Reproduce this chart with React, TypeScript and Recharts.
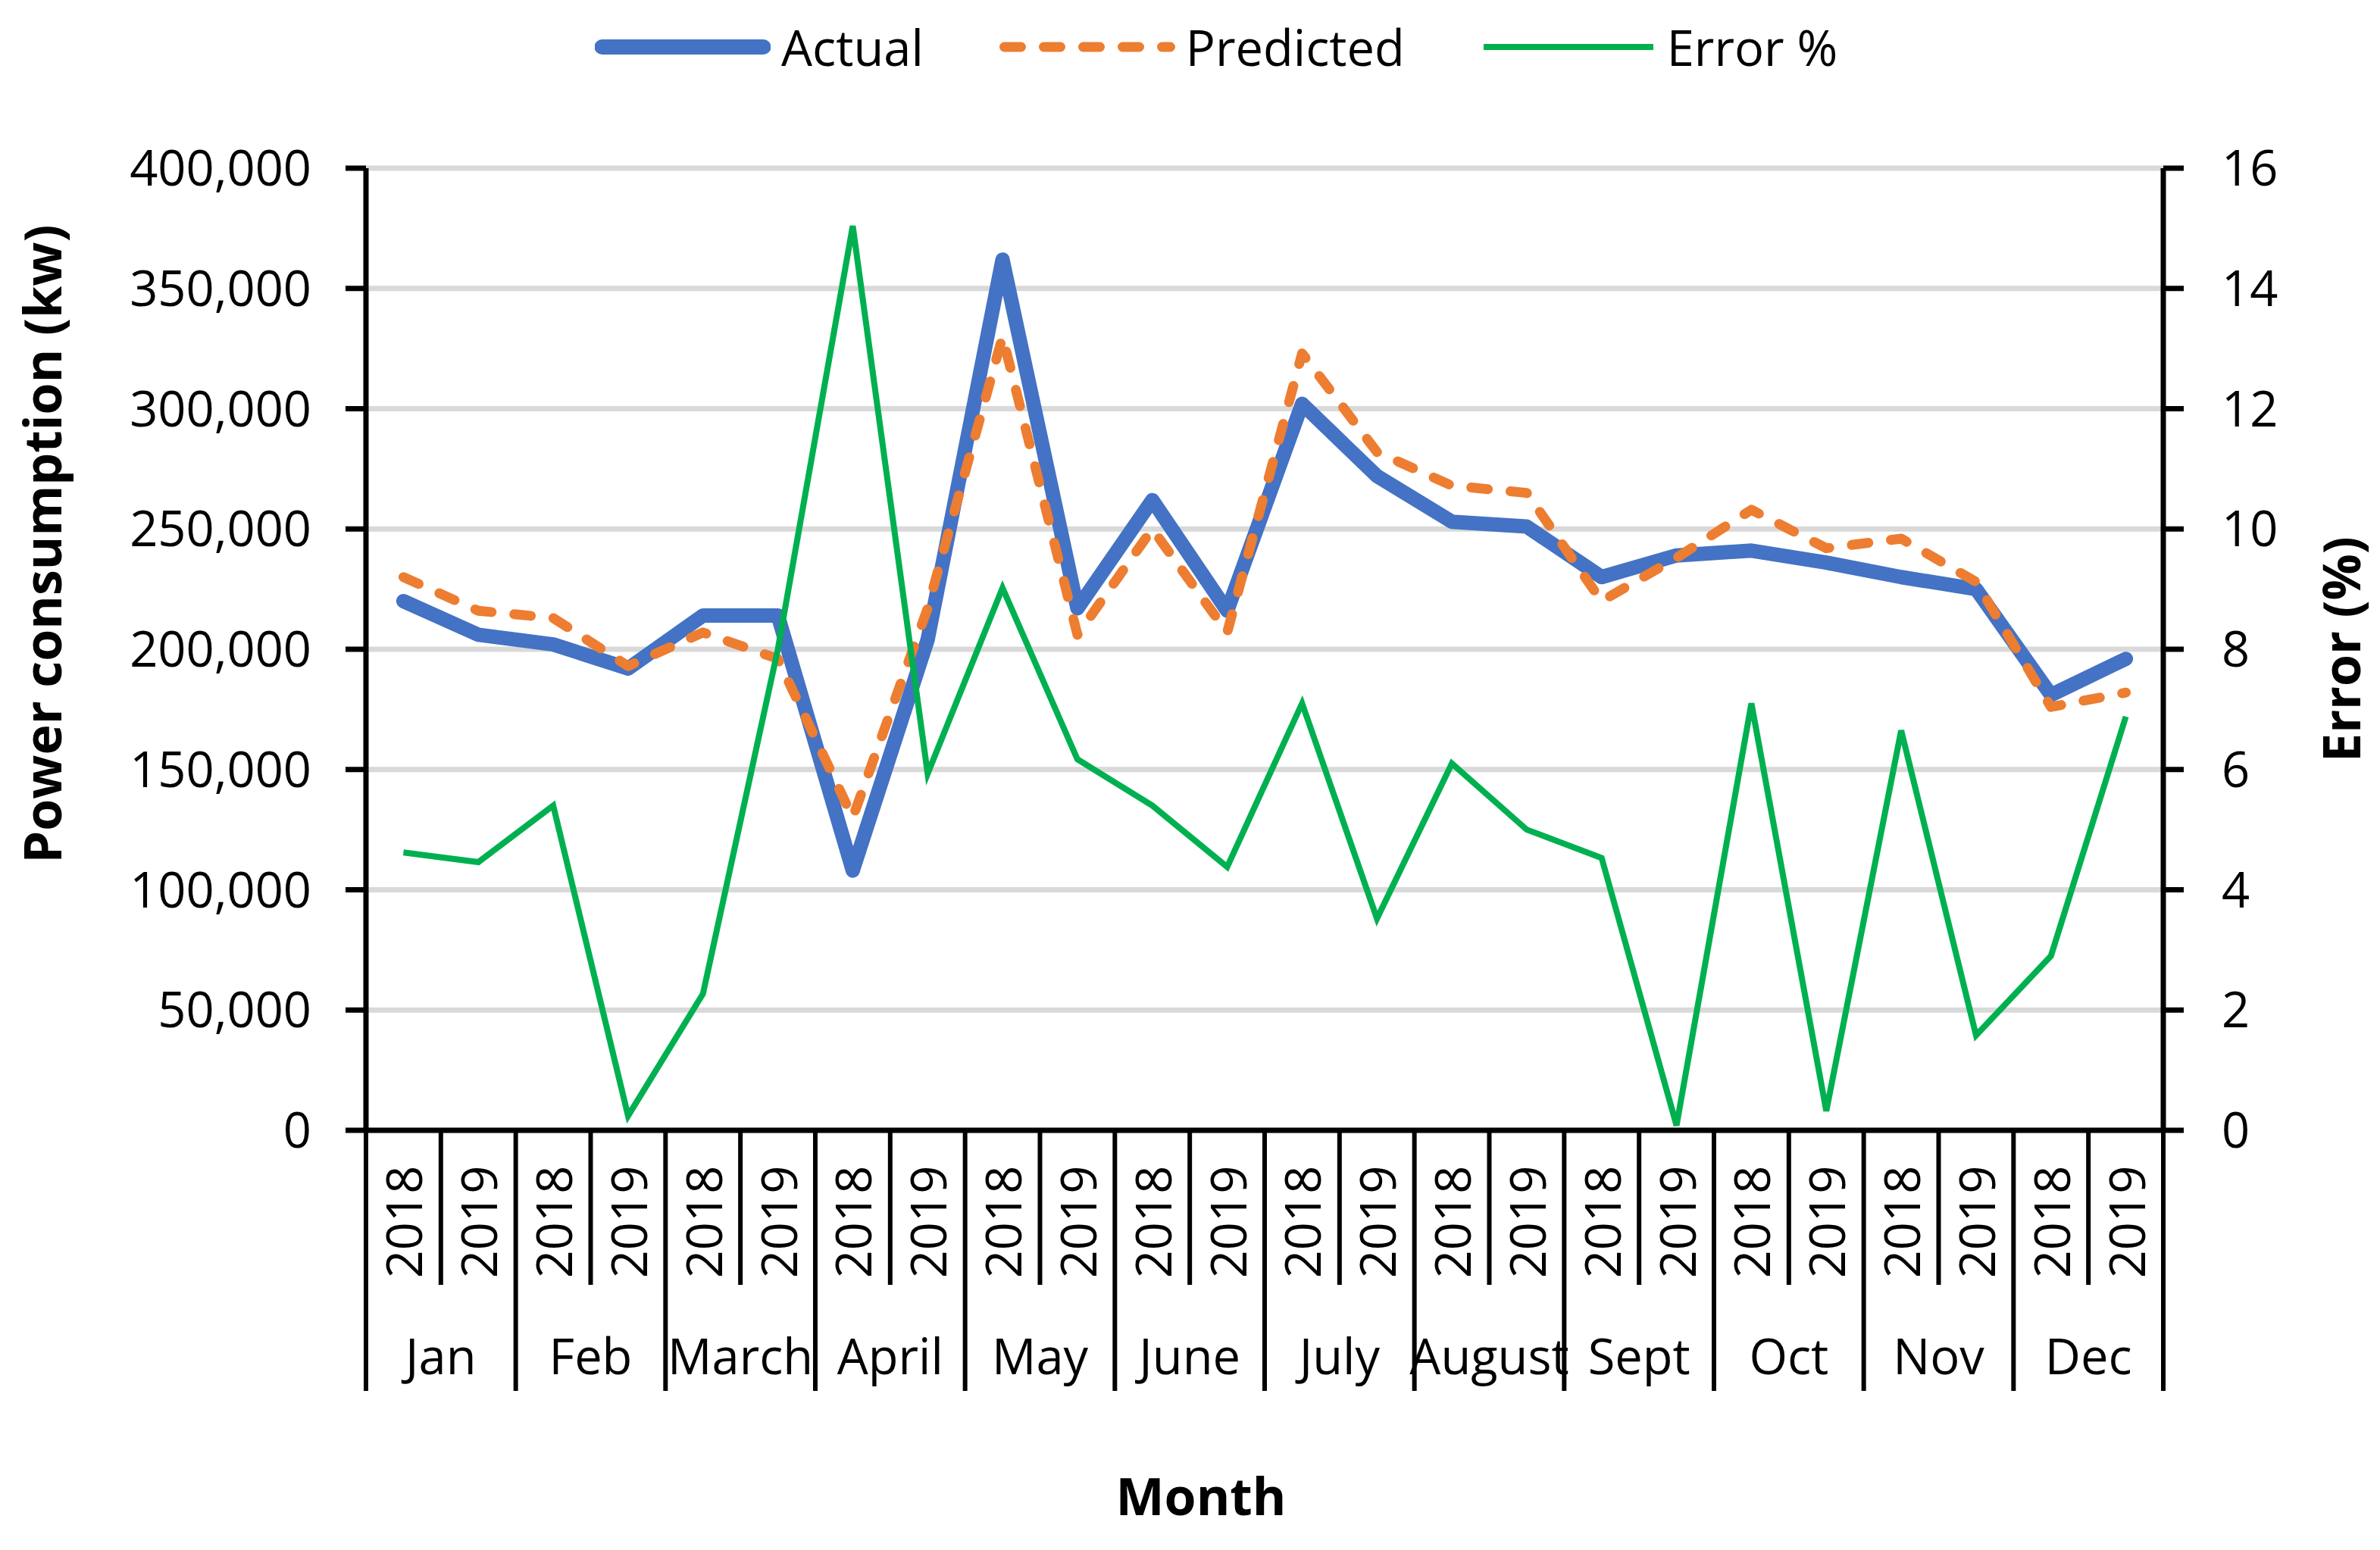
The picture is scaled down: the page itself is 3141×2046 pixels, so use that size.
import { CartesianGrid, Legend, Line, LineChart, XAxis, YAxis } from "recharts";

const months = ["Jan", "Feb", "March", "April", "May", "June", "July", "August", "Sept", "Oct", "Nov", "Dec"];
const years = ["2018", "2019"];

const actual = [
  220000, 206000, 202000, 192000, 214000, 214000, 108000, 204000, 362000, 217000, 262000, 216000,
  302000, 272000, 253000, 251000, 230000, 239000, 241000, 236000, 230000, 225000, 181000, 196000,
];
const predicted = [
  230000, 216000, 213000, 193000, 207000, 196000, 130000, 217000, 330000, 206000, 250000, 207000,
  323000, 282000, 268000, 265000, 220000, 238000, 258000, 242000, 246000, 228000, 176000, 182000,
];
const errorPct = [
  4.62, 4.46, 5.4, 0.24, 2.27, 8.0, 15.04, 5.93, 9.02, 6.17, 5.4, 4.38,
  7.1, 3.52, 6.1, 5.0, 4.53, 0.08, 7.1, 0.32, 6.65, 1.58, 2.9, 6.88,
];

const powerTicks = [0, 50000, 100000, 150000, 200000, 250000, 300000, 350000, 400000];
const errorTicks = [0, 2, 4, 6, 8, 10, 12, 14, 16];

const series = [
  { key: "actual", name: "Actual", color: "#4472C4", width: 19, dash: undefined },
  { key: "predicted", name: "Predicted", color: "#ED7D31", width: 13, dash: "22 30" },
  { key: "error", name: "Error %", color: "#00B050", width: 8, dash: undefined },
];

const data = months.flatMap((month, m) =>
  years.map((year, y) => {
    const i = m * 2 + y;
    return {
      key: `${month} ${year}`,
      month,
      year,
      actual: actual[i],
      predicted: predicted[i],
      error: errorPct[i],
    };
  })
);

const WIDTH = 3141;
const HEIGHT = 2046;
const LEFT_AXIS = 483;
const RIGHT_AXIS = 286;
const LEGEND_H = 222;
const X_AXIS_H = 554;
const FONT = "'Open Sans', 'Noto Sans', sans-serif";
const BAND = (WIDTH - LEFT_AXIS - RIGHT_AXIS) / data.length;

function CategoryTick(props: any) {
  const { x, y, payload } = props;
  const index = payload?.index ?? props.index ?? 0;
  const row = data[index];
  if (!row) return null;
  const half = BAND / 2;
  const monthStart = row.year === years[0];
  const isLast = index === data.length - 1;
  return (
    <g>
      <text
        transform={`translate(${x},${y + 121}) rotate(-90)`}
        textAnchor="middle"
        dominantBaseline="central"
        fontSize={65}
        fontFamily={FONT}
        fill="#000"
      >
        {row.year}
      </text>
      <line x1={x - half} x2={x - half} y1={y} y2={y + (monthStart ? 344 : 204)} stroke="#000" strokeWidth={6} />
      {isLast && <line x1={x + half} x2={x + half} y1={y} y2={y + 344} stroke="#000" strokeWidth={6} />}
      {!monthStart && (
        <text x={x - half} y={y + 322} textAnchor="middle" fontSize={65} fontFamily={FONT} fill="#000">
          {row.month}
        </text>
      )}
    </g>
  );
}

function ChartLegend() {
  return (
    <div style={{ height: LEGEND_H, width: WIDTH, position: "relative" }}>
      <div style={{ display: "flex", alignItems: "center", height: 124, paddingLeft: 785 }}>
        {series.map((s) => (
          <div key={s.key} style={{ display: "flex", alignItems: "center", marginRight: 100 }}>
            <svg width={232} height={40}>
              <line
                x1={s.width / 2}
                x2={232 - s.width / 2}
                y1={20}
                y2={20}
                stroke={s.color}
                strokeWidth={s.key === "actual" ? 20 : s.width}
                strokeDasharray={s.dash}
                strokeLinecap={s.key === "error" ? "butt" : "round"}
              />
            </svg>
            <span style={{ fontSize: 65, fontFamily: FONT, marginLeft: 14, lineHeight: 1, color: "#000" }}>{s.name}</span>
          </div>
        ))}
      </div>
    </div>
  );
}

export default function App() {
  return (
    <div style={{ width: WIDTH, height: HEIGHT, background: "#fff", fontFamily: FONT }}>
      <style>{"body{margin:0}"}</style>
      <LineChart width={WIDTH} height={HEIGHT} data={data} margin={{ top: 0, right: 0, bottom: 0, left: 0 }}>
        <Legend verticalAlign="top" content={<ChartLegend />} wrapperStyle={{ top: 0, left: 0 }} />
        <CartesianGrid horizontal vertical={false} stroke="#D9D9D9" strokeWidth={7} />
        <XAxis
          dataKey="key"
          scale="band"
          interval={0}
          height={X_AXIS_H}
          tickLine={false}
          tickSize={0}
          tickMargin={0}
          axisLine={{ stroke: "#000", strokeWidth: 7 }}
          tick={<CategoryTick />}
          label={{
            content: ({ viewBox }: any) => (
              <text
                x={viewBox.x + 1102}
                y={viewBox.y + 508}
                textAnchor="middle"
                fontSize={68}
                fontWeight="bold"
                fontFamily={FONT}
                fill="#000"
              >
                Month
              </text>
            ),
          }}
        />
        <YAxis
          yAxisId={0}
          width={LEFT_AXIS}
          domain={[0, 400000]}
          ticks={powerTicks}
          tickFormatter={(v) => Number(v).toLocaleString("en-US")}
          tick={{ fill: "#000", fontSize: 65, fontFamily: FONT }}
          tickSize={27}
          tickMargin={45}
          axisLine={{ stroke: "#000", strokeWidth: 7 }}
          tickLine={{ stroke: "#000", strokeWidth: 7 }}
          label={{
            content: ({ viewBox }: any) => (
              <text
                transform={`translate(${viewBox.x + 54},${viewBox.y + viewBox.height / 2 - 139}) rotate(-90)`}
                textAnchor="middle"
                dominantBaseline="central"
                fontSize={68}
                fontWeight="bold"
                fontFamily={FONT}
                fill="#000"
              >
                Power consumption (kw)
              </text>
            ),
          }}
        />
        <YAxis
          yAxisId="error"
          orientation="right"
          width={RIGHT_AXIS}
          domain={[0, 16]}
          ticks={errorTicks}
          tick={{ fill: "#000", fontSize: 65, fontFamily: FONT }}
          tickSize={27}
          tickMargin={50}
          axisLine={{ stroke: "#000", strokeWidth: 7 }}
          tickLine={{ stroke: "#000", strokeWidth: 7 }}
          label={{
            content: ({ viewBox }: any) => (
              <text
                transform={`translate(${viewBox.x + 233},${viewBox.y + viewBox.height / 2}) rotate(-90)`}
                textAnchor="middle"
                dominantBaseline="central"
                fontSize={68}
                fontWeight="bold"
                fontFamily={FONT}
                fill="#000"
              >
                Error (%)
              </text>
            ),
          }}
        />
        <Line
          yAxisId={0}
          type="linear"
          dataKey="actual"
          name="Actual"
          stroke="#4472C4"
          strokeWidth={19}
          strokeLinejoin="round"
          strokeLinecap="round"
          dot={false}
          activeDot={false}
          isAnimationActive={false}
        />
        <Line
          yAxisId={0}
          type="linear"
          dataKey="predicted"
          name="Predicted"
          stroke="#ED7D31"
          strokeWidth={13}
          strokeDasharray="22 30"
          strokeLinecap="round"
          strokeLinejoin="round"
          dot={false}
          activeDot={false}
          isAnimationActive={false}
        />
        <Line
          yAxisId="error"
          type="linear"
          dataKey="error"
          name="Error %"
          stroke="#00B050"
          strokeWidth={8}
          dot={false}
          activeDot={false}
          isAnimationActive={false}
        />
      </LineChart>
    </div>
  );
}
